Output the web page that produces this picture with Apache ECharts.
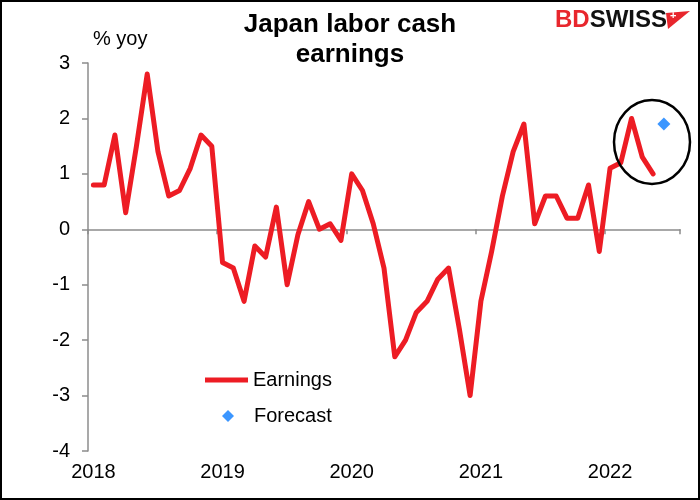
<!DOCTYPE html>
<html>
<head>
<meta charset="utf-8">
<title>Japan labor cash earnings</title>
<script src="https://cdn.jsdelivr.net/npm/echarts@6/dist/echarts.min.js"></script>
<style>
    html, body { margin: 0; padding: 0; background: #fff; }
    #chart { width: 700px; height: 500px; }
</style>
</head>
<body>
<div id="chart"></div>
<script>
// monthly axis, Jan 2018 .. Jul 2022
const startYear = 2018
const monthCount = 55
const categories = Array.from({ length: monthCount }, (_, i) =>
    `${startYear + Math.floor(i / 12)}-${String((i % 12) + 1).padStart(2, '0')}`)

// % yoy
const earnings = [
    0.8, 0.8, 1.7, 0.3, 1.5, 2.8, 1.4, 0.6, 0.7, 1.1, 1.7, 1.5,
    -0.6, -0.7, -1.3, -0.3, -0.5, 0.4, -1.0, -0.1, 0.5, 0.0, 0.1, -0.2,
    1.0, 0.7, 0.1, -0.7, -2.3, -2.0, -1.5, -1.3, -0.9, -0.7, -1.8, -3.0,
    -1.3, -0.4, 0.6, 1.4, 1.9, 0.1, 0.6, 0.6, 0.2, 0.2, 0.8, -0.4,
    1.1, 1.2, 2.0, 1.3, 1.0
]
const forecastMonths = ['2022-06']
const forecastValues = [1.9]

const yTicks = { min: -4, max: 3, step: 1 }

const red = '#ed1c24'
const blue = '#0a7cff'
const axisGrey = '#8c8c8c'
const font = 'Liberation Sans, Arial, sans-serif'

const myChart = echarts.init(document.getElementById('chart'))

const option = {
    animation: false,
    textStyle: { fontFamily: font },
    title: {
        text: 'Japan labor cash\nearnings',
        left: 'center',
        top: 5,
        textStyle: {
            fontFamily: font,
            fontSize: 26,
            fontWeight: 'bold',
            lineHeight: 30,
            color: '#000'
        }
    },
    grid: { left: 88, right: 20, top: 63, bottom: 49 },
    legend: [
        {
            data: [{ name: 'Earnings', icon: 'rect' }],
            left: 205,
            top: 370,
            padding: 0,
            itemWidth: 43,
            itemHeight: 5,
            selectedMode: false,
            textStyle: { fontSize: 20, color: '#000', fontFamily: font }
        },
        {
            data: [{ name: 'Forecast', icon: 'diamond' }],
            left: 222,
            top: 406,
            padding: 0,
            itemWidth: 12,
            itemHeight: 12,
            selectedMode: false,
            textStyle: { fontSize: 20, color: '#000', fontFamily: font, padding: [0, 0, 0, 15] }
        }
    ],
    xAxis: [
        {
            // the line sitting on zero, with year ticks
            type: 'category',
            data: categories,
            boundaryGap: true,
            axisLine: { onZero: true, lineStyle: { color: axisGrey, width: 1.5 } },
            axisTick: {
                show: true,
                length: 5,
                interval: (i) => i % 12 === 0,
                lineStyle: { color: axisGrey, width: 1.5 }
            },
            axisLabel: { show: false },
            splitLine: { show: false }
        },
        {
            // year labels along the bottom
            type: 'category',
            data: categories,
            position: 'bottom',
            boundaryGap: true,
            axisLine: { show: false, onZero: false },
            axisTick: { show: false },
            axisLabel: {
                interval: (i) => i % 12 === 0,
                formatter: (v) => v.slice(0, 4),
                fontSize: 20,
                color: '#000',
                margin: 11,
                fontFamily: font
            },
            splitLine: { show: false }
        }
    ],
    yAxis: {
        type: 'value',
        min: yTicks.min,
        max: yTicks.max,
        interval: yTicks.step,
        axisLine: { show: true, lineStyle: { color: axisGrey, width: 1.5 } },
        axisTick: { show: true, length: 6, lineStyle: { color: axisGrey, width: 1.5 } },
        axisLabel: { fontSize: 20, color: '#000', margin: 18, fontFamily: font },
        splitLine: { show: false }
    },
    series: [
        {
            name: 'Earnings',
            type: 'line',
            xAxisIndex: 0,
            data: earnings,
            symbol: 'none',
            showSymbol: false,
            color: red,
            lineStyle: { color: red, width: 5, cap: 'round', join: 'round' },
            z: 3
        },
        {
            name: 'Forecast',
            type: 'scatter',
            xAxisIndex: 0,
            data: forecastMonths.map((m, i) => [m, forecastValues[i]]),
            symbol: 'diamond',
            symbolSize: 13,
            color: blue,
            itemStyle: { color: blue },
            z: 4
        }
    ],
    graphic: [
        {
            type: 'text',
            left: 93,
            top: 29,
            style: { text: '% yoy', fontSize: 20, fill: '#000', fontFamily: font }
        },
        {
            // BDSWISS logo
            type: 'text',
            left: 555,
            top: 8,
            style: {
                text: '{a|BD}{b|SWISS}',
                rich: {
                    a: { fontSize: 24, fontWeight: 'bold', fill: '#e8262d', fontFamily: font },
                    b: { fontSize: 24, fontWeight: 'bold', fill: '#111', fontFamily: font }
                }
            }
        },
        {
            type: 'polygon',
            shape: { points: [[666, 13], [690, 11], [668, 29]] },
            style: { fill: '#e8262d' }
        },
        {
            type: 'text',
            left: 670,
            top: 10,
            style: { text: '+', fontSize: 11, fontWeight: 'bold', fill: '#fff', fontFamily: font }
        },
        {
            // circle round the latest readings
            type: 'ellipse',
            shape: { cx: 652, cy: 142, rx: 38, ry: 42 },
            style: { fill: 'none', stroke: '#000', lineWidth: 2.5 },
            z: 10
        },
        {
            type: 'rect',
            shape: { x: 1, y: 1, width: 698, height: 498 },
            style: { fill: 'none', stroke: '#000', lineWidth: 2 },
            z: 10
        }
    ]
}

myChart.setOption(option)
</script>
</body>
</html>
